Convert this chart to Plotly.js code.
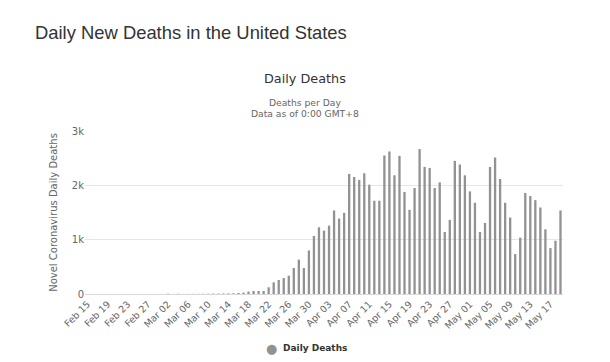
<!DOCTYPE html>
<html>
<head>
<meta charset="utf-8">
<script src="https://cdn.plot.ly/plotly-3.0.1.min.js"></script>
<style>
  html, body { margin: 0; padding: 0; background: #fff; }
  #chart { width: 610px; height: 362px; }
</style>
</head>
<body>
<div id="chart"></div>
<script>
// Dates (Feb 15 – May 19, 2020)
const dates = [
  "Feb 15","Feb 16","Feb 17","Feb 18","Feb 19","Feb 20","Feb 21","Feb 22","Feb 23","Feb 24",
  "Feb 25","Feb 26","Feb 27","Feb 28","Feb 29",
  "Mar 01","Mar 02","Mar 03","Mar 04","Mar 05","Mar 06","Mar 07","Mar 08","Mar 09","Mar 10",
  "Mar 11","Mar 12","Mar 13","Mar 14","Mar 15","Mar 16","Mar 17","Mar 18","Mar 19","Mar 20",
  "Mar 21","Mar 22","Mar 23","Mar 24","Mar 25","Mar 26","Mar 27","Mar 28","Mar 29","Mar 30","Mar 31",
  "Apr 01","Apr 02","Apr 03","Apr 04","Apr 05","Apr 06","Apr 07","Apr 08","Apr 09","Apr 10",
  "Apr 11","Apr 12","Apr 13","Apr 14","Apr 15","Apr 16","Apr 17","Apr 18","Apr 19","Apr 20",
  "Apr 21","Apr 22","Apr 23","Apr 24","Apr 25","Apr 26","Apr 27","Apr 28","Apr 29","Apr 30",
  "May 01","May 02","May 03","May 04","May 05","May 06","May 07","May 08","May 09","May 10",
  "May 11","May 12","May 13","May 14","May 15","May 16","May 17","May 18","May 19"
];

// Daily deaths
const dailyDeaths = [
  0,0,0,0,0,0,0,0,0,0,
  0,0,0,0,1,
  1,5,1,4,1,2,2,3,4,5,
  8,7,10,10,12,18,25,45,55,55,
  55,123,215,258,295,338,479,632,479,802,1068,
  1228,1167,1259,1537,1389,1494,2210,2154,2099,2222,
  2012,1716,1716,2549,2623,2185,2543,1876,1549,1950,
  2667,2339,2320,1950,2055,1142,1364,2450,2382,2185,
  1889,1679,1142,1309,2339,2512,2117,1679,1407,735,
  1037,1858,1802,1728,1592,1191,845,981,1537
];

// Tick labels shown every 4 days
const tickDates = ["Feb 15","Feb 19","Feb 23","Feb 27","Mar 02","Mar 06","Mar 10","Mar 14",
  "Mar 18","Mar 22","Mar 26","Mar 30","Apr 03","Apr 07","Apr 11","Apr 15","Apr 19","Apr 23",
  "Apr 27","May 01","May 05","May 09","May 13","May 17"];

const yTickVals = [0, 1000, 2000, 3000];
const yTickText = ["0", "1k", "2k", "3k"];

const seriesName = "Daily Deaths";
const barColor = "#929292";
const chartFont = "DejaVu Sans, Verdana, sans-serif";

const traces = [
  {
    type: "bar",
    name: seriesName,
    x: dates,
    y: dailyDeaths,
    marker: { color: barColor },
    showlegend: false,
    hoverinfo: "x+y"
  }
];

const layout = {
  width: 610,
  height: 362,
  margin: { l: 85, r: 47, t: 131, b: 68 },
  paper_bgcolor: "#ffffff",
  plot_bgcolor: "#ffffff",
  bargap: 0.54,
  showlegend: false,
  font: { family: chartFont, color: "#666666", size: 10 },
  title: {
    text: "Daily New Deaths in the United States",
    font: { family: "Liberation Sans, Arial, sans-serif", size: 18.4, color: "#333333" },
    xref: "container", yref: "container",
    x: 35 / 610, xanchor: "left",
    y: 1 - 33 / 362, yanchor: "middle"
  },
  xaxis: {
    type: "category",
    categoryorder: "array",
    categoryarray: dates,
    tickmode: "array",
    tickvals: tickDates,
    ticktext: tickDates,
    tickangle: -45,
    tickfont: { family: chartFont, size: 9.5, color: "#666666" },
    showgrid: false,
    showline: true,
    linecolor: "#d8d8d8",
    linewidth: 1,
    ticks: "",
    zeroline: false,
    fixedrange: true
  },
  yaxis: {
    range: [0, 3000],
    tickmode: "array",
    tickvals: yTickVals,
    ticktext: yTickText,
    tickfont: { family: chartFont, size: 10, color: "#666666" },
    gridcolor: "#e6e6e6",
    gridwidth: 1,
    zeroline: false,
    showline: false,
    ticks: "",
    ticklen: 0,
    title: {
      text: "Novel Coronavirus Daily Deaths",
      font: { family: chartFont, size: 10, color: "#666666" },
      standoff: 12
    },
    fixedrange: true
  },
  annotations: [
    {
      text: "Daily Deaths",
      xref: "paper", yref: "paper",
      x: (305 - 85) / 478, y: 1, yshift: 53,
      xanchor: "center", yanchor: "middle",
      showarrow: false,
      font: { family: chartFont, size: 12.8, color: "#333333" }
    },
    {
      text: "Deaths per Day",
      xref: "paper", yref: "paper",
      x: (305 - 85) / 478, y: 1, yshift: 29,
      xanchor: "center", yanchor: "middle",
      showarrow: false,
      font: { family: chartFont, size: 9.2, color: "#666666" }
    },
    {
      text: "Data as of 0:00 GMT+8",
      xref: "paper", yref: "paper",
      x: (305 - 85) / 478, y: 1, yshift: 18,
      xanchor: "center", yanchor: "middle",
      showarrow: false,
      font: { family: chartFont, size: 9.2, color: "#666666" }
    },
    // legend: symbol + label
    {
      text: "●",
      xref: "paper", yref: "paper",
      x: (271 - 85) / 478, y: 0, yshift: -54,
      xanchor: "center", yanchor: "middle",
      showarrow: false,
      font: { family: chartFont, size: 13, color: barColor }
    },
    {
      text: "<b>" + seriesName + "</b>",
      xref: "paper", yref: "paper",
      x: (281 - 85) / 478, y: 0, yshift: -54,
      xanchor: "left", yanchor: "middle",
      showarrow: false,
      font: { family: chartFont, size: 9, color: "#333333" }
    }
  ]
};

Plotly.newPlot("chart", traces, layout, { displayModeBar: false, staticPlot: true });
</script>
</body>
</html>
